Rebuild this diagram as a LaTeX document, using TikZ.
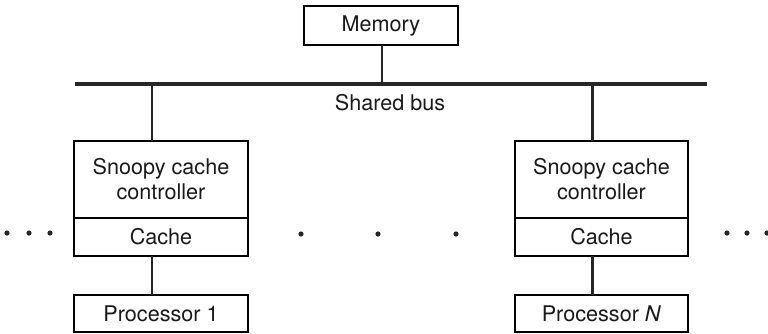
\documentclass[tikz,border=0pt]{standalone}
\usepackage{fontspec}
\setmainfont{TeX Gyre Heros}
\usetikzlibrary{positioning}
\begin{document}
\begin{tikzpicture}[x=0.5pt, y=-0.5pt, font=\fontsize{10.8pt}{12.5pt}\selectfont,
    unit/.style={rectangle, draw, line width=0.7pt, outer sep=0pt, inner sep=0pt,
                 align=center, text=black!90},
    wire/.style={line width=1.1pt, black!85},
    dot/.style={fill=black!85}]
  \useasboundingbox (0,0) rectangle (768,333);
  % memory and bus
  \node[unit, minimum width=77pt, minimum height=19.5pt] (mem) at (381,25.5) {Memory};
  \coordinate (busL) at (75,84);
  \coordinate (busR) at (707,84);
  \draw[line width=2pt, black!85] (busL) -- (busR);
  \node[text=black!90] (lbl) at (390,103) {Shared bus};
  \draw[wire] ([xshift=0.5pt]mem.south) -- ([xshift=0.5pt]mem.south |- busL);
  % processor 1 column
  \node[unit, minimum width=87pt, minimum height=38.5pt] (ctlA) at (161,179.5) {Snoopy cache\\controller};
  \node[unit, minimum width=87pt, minimum height=19pt, below=0pt of ctlA] (cacA) {Cache};
  \node[unit, minimum width=87pt, minimum height=18.5pt, below=19.5pt of cacA] (proA) {Processor 1};
  % processor N column
  \node[unit, minimum width=86.5pt, minimum height=38.5pt] (ctlN) at (601.5,179.5) {Snoopy cache\\controller};
  \node[unit, minimum width=86.5pt, minimum height=19pt, below=0pt of ctlN] (cacN) {Cache};
  \node[unit, minimum width=86.5pt, minimum height=18.5pt, below=19.5pt of cacN] (proN) {Processor \textit{N}};
  % connections
  \foreach \c in {A,N} {
    \draw[wire] ([xshift=-4.5pt]ctl\c.north) -- ([xshift=-4.5pt]ctl\c.north |- busL);
    \draw[wire] ([xshift=-4.5pt]cac\c.south) -- ([xshift=-4.5pt]pro\c.north);
  }
  % ellipsis dots
  \foreach \x/\y in {7/233, 29/233, 50/233, 301/234, 378/234, 456/234, 727/233, 747/233, 767/233}
    \fill[dot] (\x,\y) circle (1.3pt);
\end{tikzpicture}
\end{document}
